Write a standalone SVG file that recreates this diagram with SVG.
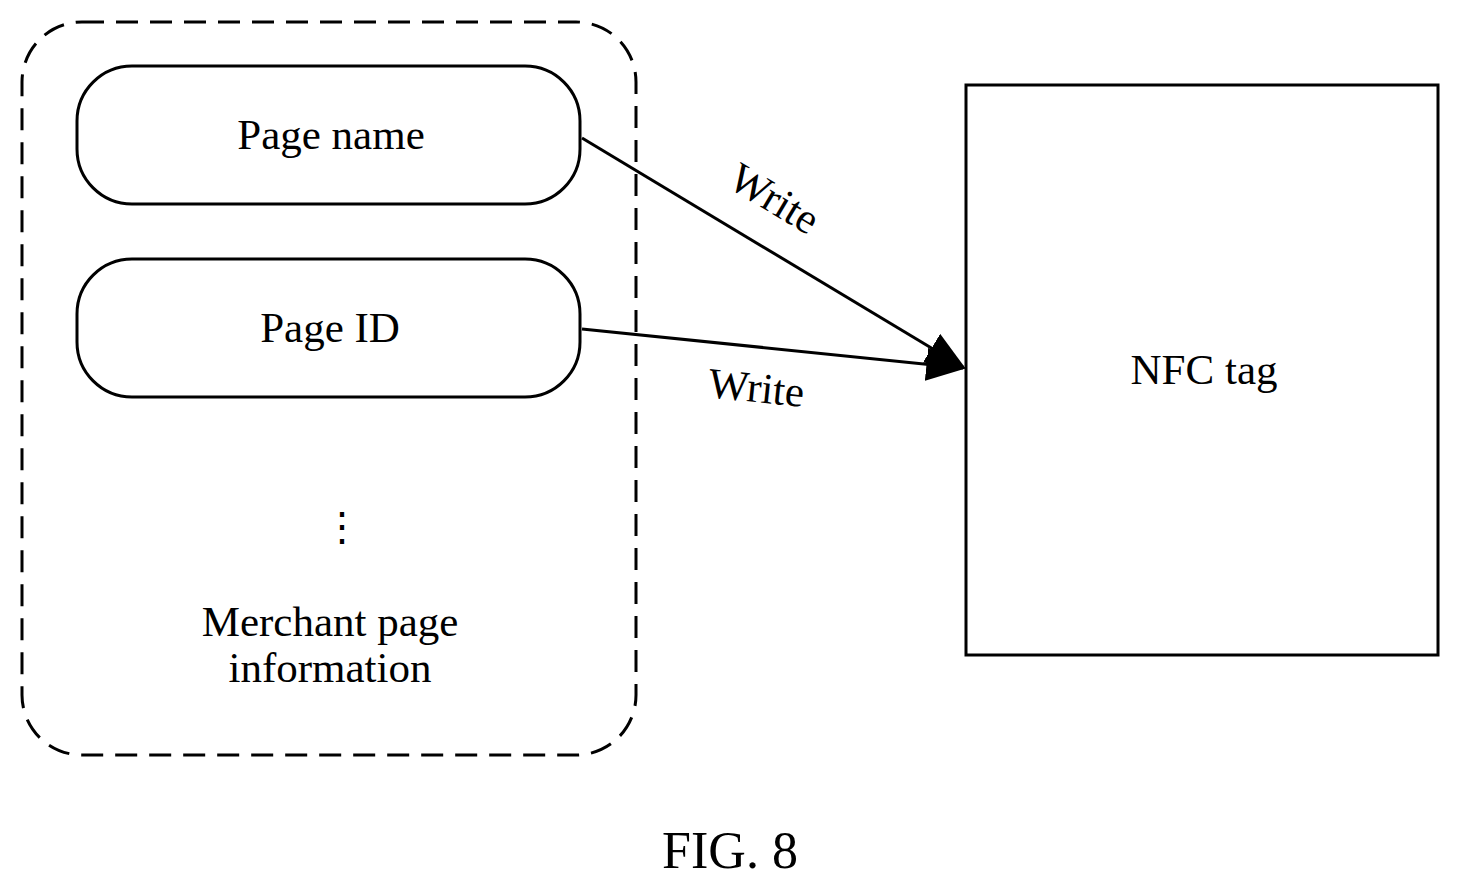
<svg xmlns="http://www.w3.org/2000/svg" width="1461" height="891" viewBox="0 0 1461 891">
<style>
text{font-family:"Liberation Serif",serif;fill:#000}
.n{fill:#fff;stroke:#000;stroke-width:3}
.c{stroke:#000;stroke-width:3;fill:none}
</style>
<defs>
<marker id="b" viewBox="0 0 12 10" refX="11" refY="5" markerWidth="40" markerHeight="34" orient="auto" markerUnits="userSpaceOnUse"><path d="M0,0L12,5L0,10z"/></marker></defs>
<rect width="1461" height="891" fill="#fff"/>
<g id="group"><rect x="22" y="22" width="614" height="733" rx="60" fill="none" stroke="#000" stroke-width="3" stroke-dasharray="22,12"/>
<text x="330" y="636" font-size="43" text-anchor="middle">Merchant page</text>
<text x="330" y="682" font-size="43" text-anchor="middle">information</text>
<text x="342" y="540" font-size="40" text-anchor="middle">⋮</text></g>
<g id="pagename"><rect class="n" x="77" y="66" width="503" height="138" rx="55"/><text x="331" y="149" font-size="43" text-anchor="middle">Page name</text></g>
<g id="pageid"><rect class="n" x="77" y="259" width="503" height="138" rx="55"/><text x="330" y="342" font-size="43" text-anchor="middle">Page ID</text></g>
<g id="nfc"><rect class="n" x="966" y="85" width="472" height="570"/><text x="1204" y="384" font-size="43" text-anchor="middle">NFC tag</text></g>
<g id="connectors">
<line class="c" x1="582" y1="138" x2="963" y2="367" marker-end="url(#b)"/>
<line class="c" x1="582" y1="329" x2="963" y2="368" marker-end="url(#b)"/>
<text x="0" y="0" font-size="43" transform="translate(726,186) rotate(31)">Write</text>
<text x="0" y="0" font-size="43" transform="translate(707,397) rotate(6)">Write</text>
</g>
<text x="730" y="868" font-size="52" text-anchor="middle">FIG. 8</text>
</svg>
